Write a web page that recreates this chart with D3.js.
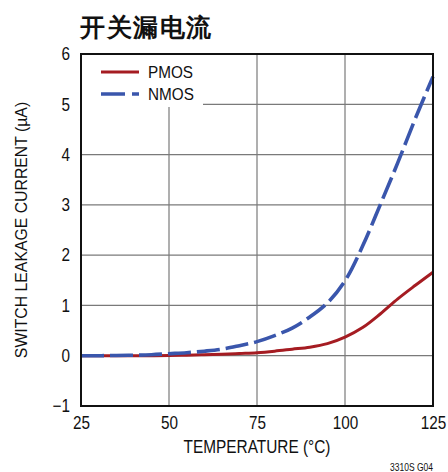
<!DOCTYPE html>
<html>
<head>
<meta charset="utf-8">
<script src="https://cdn.jsdelivr.net/npm/d3@7/dist/d3.min.js"></script>
<style>
  html, body { margin: 0; padding: 0; background: #fff; }
  svg { display: block; }
  text { font-family: "Liberation Sans", Arial, Helvetica, sans-serif; fill: #111; }
</style>
</head>
<body>
<svg id="chart" width="448" height="472"></svg>
<script>
// Temperature sweep (°C) and leakage current (µA) per switch type
const temperature = [25, 30, 35, 40, 45, 50, 55, 60, 65, 70, 75, 80, 85, 90, 95, 100, 105, 110, 115, 120, 125];
const pmosLeakage = [0, 0, 0, 0, 0, 0.005, 0.01, 0.02, 0.03, 0.045, 0.06, 0.09, 0.13, 0.17, 0.24, 0.37, 0.56, 0.83, 1.13, 1.40, 1.66];
const nmosLeakage = [0, 0, 0.005, 0.01, 0.02, 0.04, 0.06, 0.09, 0.13, 0.2, 0.28, 0.4, 0.55, 0.77, 1.05, 1.49, 2.18, 3.0, 3.84, 4.72, 5.55];

const xTicks = [25, 50, 75, 100, 125];
const yTicks = [-1, 0, 1, 2, 3, 4, 5, 6];
const seriesNames = ["PMOS", "NMOS"];
const titleText = "开关漏电流";
const xTitle = "TEMPERATURE (°C)";
const yTitle = "SWITCH LEAKAGE CURRENT (µA)";
const figureId = "3310S G04";

const svg = d3.select("#chart");
const margin = { left: 81, right: 15, top: 54, bottom: 66 };
const W = 448, H = 472;

const x = d3.scaleLinear().domain([25, 125]).range([margin.left, W - margin.right]);
const y = d3.scaleLinear().domain([-1, 6]).range([H - margin.bottom, margin.top]);

const red = "#a51c22";
const blue = "#3a56ac";

// condensed look for the sans labels: squeeze horizontally about the anchor
function condense(sel, k, ax) {
  sel.each(function () {
    const t = d3.select(this);
    const x0 = +t.attr("x") || 0;
    const ox = ax === undefined ? x0 : ax;
    t.attr("transform", `translate(${ox},0) scale(${k},1) translate(${-ox},0)`);
  });
}

// grid
const grid = svg.append("g");
grid.selectAll(".vg").data(xTicks.slice(1, -1)).join("line")
  .attr("x1", d => x(d)).attr("x2", d => x(d))
  .attr("y1", y(6)).attr("y2", y(-1))
  .attr("stroke", "#7a7a7a").attr("stroke-width", 1.2);
grid.selectAll(".hg").data(yTicks.slice(1, -1)).join("line")
  .attr("x1", x(25)).attr("x2", x(125))
  .attr("y1", d => y(d)).attr("y2", d => y(d))
  .attr("stroke", "#7a7a7a").attr("stroke-width", 1.2);

// legend backdrop hides the grid behind the key
svg.append("rect")
  .attr("x", x(25)).attr("y", y(6))
  .attr("width", 122).attr("height", 53)
  .attr("fill", "#fff");

// curves
const line = d3.line()
  .x((d, i) => x(temperature[i]))
  .y(d => y(d))
  .curve(d3.curveCatmullRom.alpha(0.5));

svg.append("path").datum(pmosLeakage)
  .attr("d", line).attr("fill", "none")
  .attr("stroke", red).attr("stroke-width", 3);

svg.append("path").datum(nmosLeakage)
  .attr("d", line).attr("fill", "none")
  .attr("stroke", blue).attr("stroke-width", 3.6)
  .attr("stroke-dasharray", "23,6");

// frame
svg.append("rect")
  .attr("x", x(25)).attr("y", y(6))
  .attr("width", x(125) - x(25)).attr("height", y(-1) - y(6))
  .attr("fill", "none").attr("stroke", "#111").attr("stroke-width", 2);

// axes (labels only; the frame and grid carry the lines)
const xAxis = d3.axisBottom(x).tickValues(xTicks).tickSize(0).tickPadding(10);
const gx = svg.append("g").attr("transform", `translate(0,${y(-1)})`).call(xAxis);
gx.select(".domain").remove();
gx.selectAll("text").attr("font-size", 18).attr("fill", "#111")
  .attr("font-family", "Liberation Sans, Arial, sans-serif")
  .call(condense, 0.85);

const yAxis = d3.axisLeft(y).tickValues(yTicks).tickSize(0).tickPadding(11)
  .tickFormat(d => d < 0 ? "\u2212" + Math.abs(d) : d);
const gy = svg.append("g").attr("transform", `translate(${x(25)},0)`).call(yAxis);
gy.select(".domain").remove();
gy.selectAll("text").attr("font-size", 18).attr("fill", "#111")
  .attr("font-family", "Liberation Sans, Arial, sans-serif")
  .call(condense, 0.85);

// legend
const legend = svg.append("g");
const legendRows = [
  { name: seriesNames[0], color: red, width: 3, dash: null, y: 72 },
  { name: seriesNames[1], color: blue, width: 3.6, dash: "24,7", y: 94 }
];
legendRows.forEach(r => {
  legend.append("line")
    .attr("x1", 101).attr("x2", 139).attr("y1", r.y).attr("y2", r.y)
    .attr("stroke", r.color).attr("stroke-width", r.width)
    .attr("stroke-dasharray", r.dash);
  legend.append("text")
    .attr("x", 148).attr("y", r.y + 6)
    .attr("font-size", 17).text(r.name)
    .call(condense, 0.9);
});

// titles
svg.append("text")
  .attr("x", 80).attr("y", 36)
  .attr("font-family", "Noto Sans CJK SC, sans-serif")
  .attr("font-weight", 900).attr("font-size", 25)
  .attr("letter-spacing", 1.5)
  .text(titleText);

svg.append("text")
  .attr("x", (x(25) + x(125)) / 2).attr("y", 453)
  .attr("text-anchor", "middle").attr("font-size", 17.5)
  .text(xTitle)
  .call(condense, 0.88);

svg.append("text")
  .attr("transform", `translate(27,${(y(6) + y(-1)) / 2}) rotate(-90)`)
  .attr("text-anchor", "middle").attr("font-size", 15.8)
  .text(yTitle);

svg.append("text")
  .attr("x", 433).attr("y", 471)
  .attr("text-anchor", "end").attr("font-size", 10)
  .text(figureId)
  .call(condense, 0.85);
</script>
</body>
</html>
